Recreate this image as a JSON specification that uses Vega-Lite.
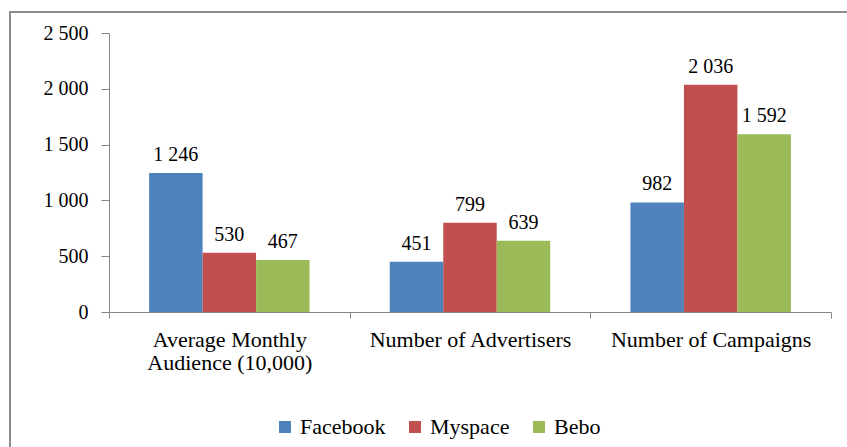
{
  "$schema": "https://vega.github.io/schema/vega-lite/v6.json",
  "width": 857,
  "height": 455,
  "autosize": {"type": "none"},
  "padding": {"left": 10, "top": 12, "right": -20, "bottom": -20},
  "background": "white",
  "config": {
    "locale": {"number": {"decimal": ".", "thousands": " ", "grouping": [3], "currency": ["", ""]}},
    "view": {"stroke": "#8c8c8c", "strokeWidth": 2, "fill": "white"},
    "font": "'Liberation Serif', 'Times New Roman', serif"
  },
  "data": {
    "values": [
      {"metric": "Average Monthly Audience (10,000)", "site": "Facebook", "value": 1246},
      {"metric": "Average Monthly Audience (10,000)", "site": "Myspace", "value": 530},
      {"metric": "Average Monthly Audience (10,000)", "site": "Bebo", "value": 467},
      {"metric": "Number of Advertisers", "site": "Facebook", "value": 451},
      {"metric": "Number of Advertisers", "site": "Myspace", "value": 799},
      {"metric": "Number of Advertisers", "site": "Bebo", "value": 639},
      {"metric": "Number of Campaigns", "site": "Facebook", "value": 982},
      {"metric": "Number of Campaigns", "site": "Myspace", "value": 2036},
      {"metric": "Number of Campaigns", "site": "Bebo", "value": 1592}
    ]
  },
  "encoding": {
    "x": {
      "field": "metric",
      "type": "nominal",
      "sort": ["Average Monthly Audience (10,000)", "Number of Advertisers", "Number of Campaigns"],
      "scale": {"range": [99, 821], "paddingInner": 0, "paddingOuter": 0},
      "axis": {
        "title": null,
        "offset": -155,
        "tickBand": "extent",
        "tickSize": 6,
        "tickColor": "#868686",
        "domainColor": "#868686",
        "labelAngle": 0,
        "labelFont": "'Liberation Serif', 'Times New Roman', serif",
        "labelFontSize": 22,
        "labelLineHeight": 23,
        "labelColor": "black",
        "labelPadding": 11,
        "labelOverlap": false,
        "labelLimit": 0,
        "labelExpr": "datum.value == 'Average Monthly Audience (10,000)' ? ['Average Monthly', 'Audience (10,000)'] : datum.label"
      }
    },
    "xOffset": {
      "field": "site",
      "type": "nominal",
      "sort": ["Facebook", "Myspace", "Bebo"],
      "scale": {"paddingInner": 0, "paddingOuter": 0.75}
    },
    "y": {
      "field": "value",
      "type": "quantitative",
      "scale": {"domain": [0, 2500], "range": [300, 21], "nice": false, "zero": true},
      "axis": {
        "title": null,
        "offset": -99,
        "grid": false,
        "values": [0, 500, 1000, 1500, 2000, 2500],
        "format": ",d",
        "tickSize": 8,
        "tickColor": "#868686",
        "domainColor": "#868686",
        "labelFont": "'Liberation Serif', 'Times New Roman', serif",
        "labelFontSize": 20,
        "labelColor": "black",
        "labelPadding": 13
      }
    }
  },
  "layer": [
    {
      "mark": {"type": "bar"},
      "encoding": {
        "color": {
          "field": "site",
          "type": "nominal",
          "sort": ["Facebook", "Myspace", "Bebo"],
          "scale": {"domain": ["Facebook", "Myspace", "Bebo"], "range": ["#4F81BD", "#C0504D", "#9BBB59"]},
          "legend": {
            "title": null,
            "orient": "none",
            "direction": "horizontal",
            "legendX": 264,
            "legendY": 404,
            "symbolType": "square",
            "symbolSize": 144,
            "symbolStrokeWidth": 0,
            "labelFont": "'Liberation Serif', 'Times New Roman', serif",
            "labelFontSize": 22,
            "labelColor": "black",
            "labelOffset": 4,
            "columnPadding": 18
          }
        }
      }
    },
    {
      "mark": {"type": "text", "dy": -12, "baseline": "alphabetic", "fontSize": 20, "font": "'Liberation Serif', 'Times New Roman', serif", "color": "black"},
      "encoding": {"text": {"field": "value", "type": "quantitative", "format": ",d"}}
    }
  ]
}
